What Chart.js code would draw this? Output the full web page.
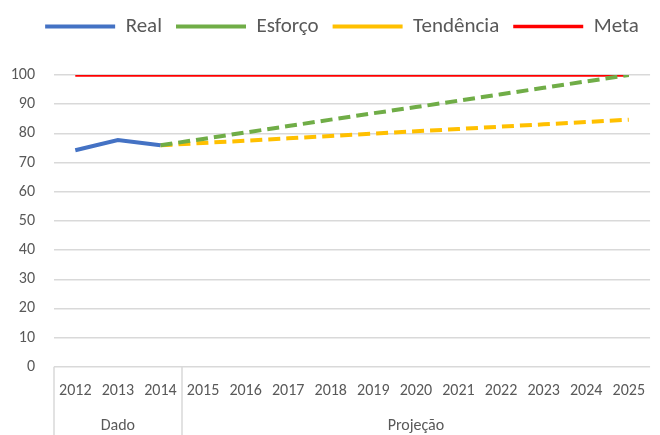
<!DOCTYPE html>
<html>
<head>
<meta charset="utf-8">
<script src="https://cdn.jsdelivr.net/npm/chart.js@4/dist/chart.umd.min.js"></script>
<style>
html,body{margin:0;padding:0;background:#fff;}
#wrap{width:660px;height:435px;position:relative;}
</style>
</head>
<body>
<div id="wrap"><canvas id="c" width="660" height="435"></canvas></div>
<script>
const years = ["2012","2013","2014","2015","2016","2017","2018","2019","2020","2021","2022","2023","2024","2025"];
const groupLabels = ["Dado","Projeção"];
const groupCounts = [3, 11];
const real = [74.2,77.7,75.9,null,null,null,null,null,null,null,null,null,null,null];
const esforco = [null,null,75.9,78.1,80.3,82.5,84.7,86.9,89.0,91.2,93.4,95.6,97.8,100];
const tendencia = [null,null,75.9,76.7,77.5,78.3,79.1,79.9,80.7,81.5,82.3,83.1,83.9,84.7];
const meta = [100,100,100,100,100,100,100,100,100,100,100,100,100,100];
const yMin = 0, yMax = 100, yStep = 10;

const FONT = "Carlito, Lato, 'Liberation Sans', sans-serif";
const TXT = "#595959";
const GRID = "#d9d9d9";

const groupPlugin = {
  id:'groups',
  afterDraw(chart){
    const ctx = chart.ctx, xs = chart.scales.x, ca = chart.chartArea;
    const bottom = chart.height;
    ctx.save();
    ctx.strokeStyle = GRID;
    ctx.lineWidth = 1.5;
    let idx = 0;
    const bounds = [xs.left];
    groupCounts.forEach(c => {
      idx += c;
      if (idx < years.length) bounds.push((xs.getPixelForValue(idx-1)+xs.getPixelForValue(idx))/2);
      else bounds.push(xs.right);
    });
    for (let i=0;i<bounds.length-1;i++){
      const x = Math.round(bounds[i]);
      ctx.beginPath(); ctx.moveTo(x, ca.bottom); ctx.lineTo(x, bottom); ctx.stroke();
    }
    ctx.fillStyle = TXT;
    ctx.font = "16px " + FONT;
    ctx.textAlign = "center";
    ctx.textBaseline = "middle";
    groupLabels.forEach((g,i) => {
      ctx.fillText(g, (bounds[i]+bounds[i+1])/2, bottom - 9);
    });
    ctx.restore();
  }
};

const legendTweak = {
  id:'legendTweak',
  beforeInit(chart){
    const orig = chart.legend.fit;
    chart.legend.fit = function(){ orig.call(this); this.height = 75; };
  },
  afterLayout(chart){
    chart.legend.left += 8;
    chart.legend.right += 8;
    chart.legend.top += 2;
  }
};

new Chart(document.getElementById('c'), {
  type:'line',
  data:{
    labels: years,
    datasets:[
      {label:'Real', data:real, borderColor:'#4472C4', backgroundColor:'#4472C4', borderWidth:4, pointRadius:0, tension:0},
      {label:'Esforço', data:esforco, borderColor:'#70AD47', backgroundColor:'#70AD47', borderWidth:4, borderDash:[12,6], pointRadius:0, tension:0},
      {label:'Tendência', data:tendencia, borderColor:'#FFC000', backgroundColor:'#FFC000', borderWidth:4, borderDash:[12,6], pointRadius:0, tension:0},
      {label:'Meta', data:meta, borderColor:'#FF0000', backgroundColor:'#FF0000', borderWidth:3.5, pointRadius:0, tension:0}
    ]
  },
  options:{
    responsive:false,
    animation:false,
    layout:{padding:{left:8,right:0,top:0,bottom:19}},
    plugins:{
      legend:{
        position:'top',
        labels:{
          usePointStyle:true,
          pointStyle:'line',
          pointStyleWidth:70,
          boxHeight:21,
          color:TXT,
          font:{size:21, family:FONT},
          padding:14
        }
      },
      tooltip:{enabled:false}
    },
    scales:{
      x:{
        offset:true,
        grid:{display:false, drawTicks:false},
        border:{display:false},
        ticks:{color:TXT, font:{size:16, family:FONT}, maxRotation:0, autoSkip:false, padding:15}
      },
      y:{
        min:yMin, max:yMax,
        afterFit(scale){ scale.width = 46; },
        grid:{color:GRID, lineWidth:1.5, drawTicks:false},
        border:{display:false},
        ticks:{stepSize:yStep, color:TXT, font:{size:16, family:FONT}, padding:19}
      }
    }
  },
  plugins:[groupPlugin, legendTweak]
});
</script>
</body>
</html>
